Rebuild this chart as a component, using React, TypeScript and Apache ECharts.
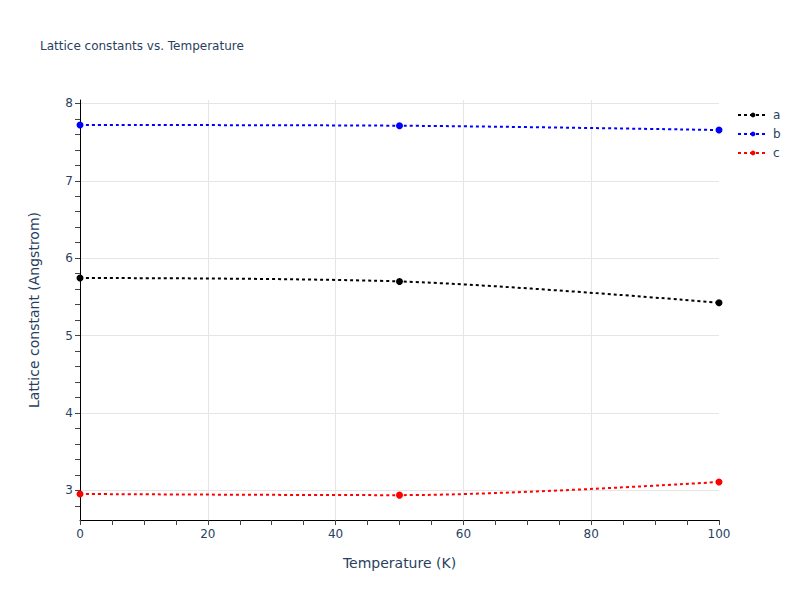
import * as echarts from "echarts";
import { useEffect, useRef } from "react";

const temperatures = [0, 50, 100];
const seriesA = [5.744, 5.70, 5.425];
const seriesB = [7.72, 7.711, 7.655];
const seriesC = [2.955, 2.94, 3.11];

const seriesNames = ["a", "b", "c"];
const seriesColors = ["#000000", "#0000ff", "#ff0000"];

const yLabelValues = [3, 4, 5, 6, 7, 8];
const yMinorValues = [
  2.8, 3.0, 3.2, 3.4, 3.6, 3.8, 4.0, 4.2, 4.4, 4.6, 4.8, 5.0, 5.2, 5.4, 5.6,
  5.8, 6.0, 6.2, 6.4, 6.6, 6.8, 7.0, 7.2, 7.4, 7.6, 7.8, 8.0,
];

// plotly falls back to a verdana-like face here
const FONT = 'Verdana, "DejaVu Sans", sans-serif';
const TEXT = "#2a3f5f";

export default function App() {
  const chartRef = useRef<HTMLDivElement>(null);

  useEffect(() => {
    if (!chartRef.current) return;
    const chart = echarts.init(chartRef.current, null, { renderer: "svg" });

    const values = [seriesA, seriesB, seriesC];

    chart.setOption({
      animation: false,
      backgroundColor: "#ffffff",
      title: {
        text: "Lattice constants vs. Temperature",
        left: 40,
        top: 40,
        padding: 0,
        textStyle: {
          fontFamily: FONT,
          fontSize: 12,
          fontWeight: "normal",
          color: TEXT,
        },
      },
      legend: {
        orient: "vertical",
        left: 737,
        top: 109,
        padding: 0,
        itemWidth: 30,
        itemHeight: 6,
        itemGap: 7,
        textStyle: { fontFamily: FONT, fontSize: 12, color: TEXT },
        data: seriesNames,
      },
      grid: { left: 80, right: 81, top: 100, bottom: 80 },
      xAxis: {
        type: "value",
        min: 0,
        max: 100,
        interval: 20,
        name: "Temperature (K)",
        nameLocation: "middle",
        nameGap: 36,
        nameTextStyle: { fontFamily: FONT, fontSize: 14, color: TEXT },
        axisLine: { show: true, onZero: false, lineStyle: { color: "#000", width: 1 } },
        axisTick: { show: true, length: 5, lineStyle: { color: "#444" } },
        minorTick: { show: true, splitNumber: 4, length: 5, lineStyle: { color: "#444" } },
        axisLabel: { fontFamily: FONT, fontSize: 12, color: TEXT, margin: 8 },
        splitLine: {
          show: true,
          showMinLine: false,
          showMaxLine: false,
          lineStyle: { color: "#e5e5e5", width: 1 },
        },
      },
      yAxis: [
        {
          type: "value",
          min: 2.619,
          max: 8.043,
          name: "Lattice constant (Angstrom)",
          nameLocation: "middle",
          nameGap: 39,
          nameTextStyle: { fontFamily: FONT, fontSize: 14, color: TEXT },
          axisLine: { show: false },
          axisTick: { show: false, customValues: yLabelValues },
          axisLabel: {
            customValues: yLabelValues,
            fontFamily: FONT,
            fontSize: 12,
            color: TEXT,
            margin: 7,
          },
          splitLine: { show: true, lineStyle: { color: "#e5e5e5", width: 1 } },
        },
        {
          type: "value",
          min: 2.619,
          max: 8.043,
          position: "left",
          axisLine: { show: true, onZero: false, lineStyle: { color: "#000", width: 1 } },
          axisTick: {
            show: true,
            length: 5,
            customValues: yMinorValues,
            lineStyle: { color: "#444" },
          },
          axisLabel: { show: false },
          splitLine: { show: false },
        },
      ],
      series: values.map((vals, i) => ({
        name: seriesNames[i],
        type: "line",
        yAxisIndex: 0,
        data: temperatures.map((t, j) => [t, vals[j]]),
        smooth: 0.33,
        symbol: "circle",
        symbolSize: 7,
        showSymbol: true,
        itemStyle: { color: seriesColors[i] },
        lineStyle: { color: seriesColors[i], width: 2, type: [3, 3] },
      })),
    });

    return () => {
      chart.dispose();
    };
  }, []);

  return (
    <div
      ref={chartRef}
      style={{ position: "absolute", left: 0, top: 0, width: 800, height: 600 }}
    />
  );
}
